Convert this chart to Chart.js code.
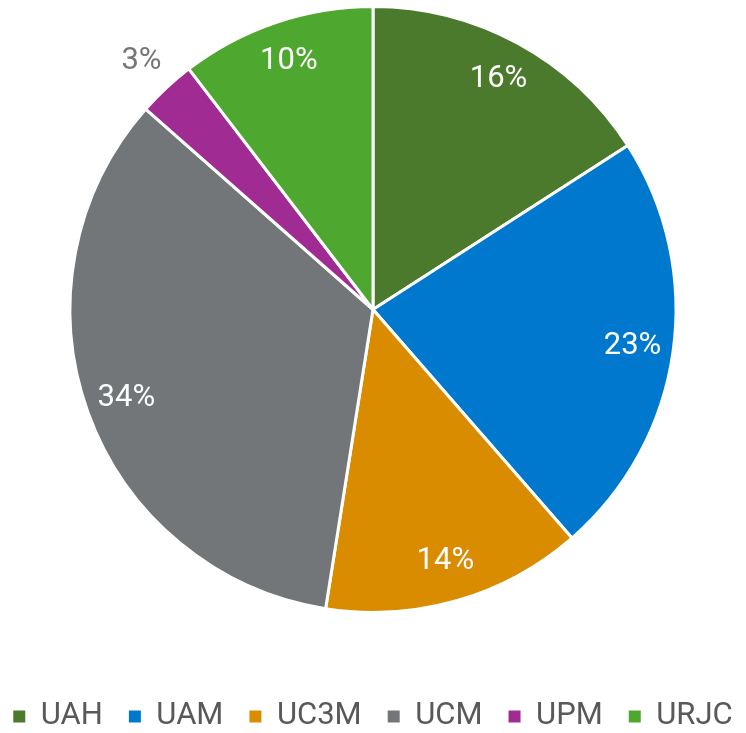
<!DOCTYPE html>
<html>
<head>
<meta charset="utf-8">
<script src="https://cdn.jsdelivr.net/npm/chart.js@4"></script>
<style>
  body { margin: 0; background: #fff; }
  #wrap { width: 746px; height: 733px; }
</style>
</head>
<body>
<div id="wrap"><canvas id="chart" width="746" height="733"></canvas></div>
<script>
const universities = ["UAH", "UAM", "UC3M", "UCM", "UPM", "URJC"];
const shares = [15.9, 22.7, 13.9, 34.0, 3.1, 10.4];
const sliceColors = ["#4B7A2C", "#0078CD", "#DA8C00", "#727678", "#A02B93", "#4EA72E"];

// percentage labels on the slices (small ones go outside, in grey)
const sliceLabels = {
  id: "sliceLabels",
  afterDatasetsDraw(chart) {
    const ctx = chart.ctx;
    const meta = chart.getDatasetMeta(0);
    const total = shares.reduce((a, b) => a + b, 0);
    ctx.save();
    ctx.font = "31px Roboto";
    ctx.textAlign = "center";
    ctx.textBaseline = "middle";
    meta.data.forEach((arc, i) => {
      const pct = (shares[i] / total) * 100;
      const mid = (arc.startAngle + arc.endAngle) / 2;
      const outside = pct < 5;
      const r = arc.outerRadius * (outside ? 1.12 : 0.865);
      ctx.fillStyle = outside ? "#767676" : "#ffffff";
      ctx.fillText(Math.round(pct) + "%", arc.x + Math.cos(mid) * r, arc.y + Math.sin(mid) * r);
    });
    ctx.restore();
  },
};

const ctx = document.getElementById("chart").getContext("2d");
new Chart(ctx, {
  type: "pie",
  data: {
    labels: universities,
    datasets: [
      {
        data: shares,
        backgroundColor: sliceColors,
        borderColor: "#ffffff",
        borderWidth: 3,
      },
    ],
  },
  options: {
    responsive: false,
    animation: false,
    // negative side padding gives the one-row legend enough room
    layout: { padding: { top: 5, bottom: -9, left: -40, right: -40 } },
    plugins: {
      tooltip: { enabled: false },
      legend: {
        position: "bottom",
        title: { display: true, text: "", padding: { top: 46.6, bottom: 0 } },
        labels: {
          color: "#595959",
          font: { family: "Roboto", size: 31 },
          boxWidth: 12,
          boxHeight: 12,
          padding: 26,
          // no white outline on the legend squares
          generateLabels: (chart) =>
            Chart.overrides.pie.plugins.legend.labels
              .generateLabels(chart)
              .map((item) => ({ ...item, lineWidth: 0 })),
        },
      },
    },
  },
  plugins: [sliceLabels],
});
</script>
</body>
</html>
